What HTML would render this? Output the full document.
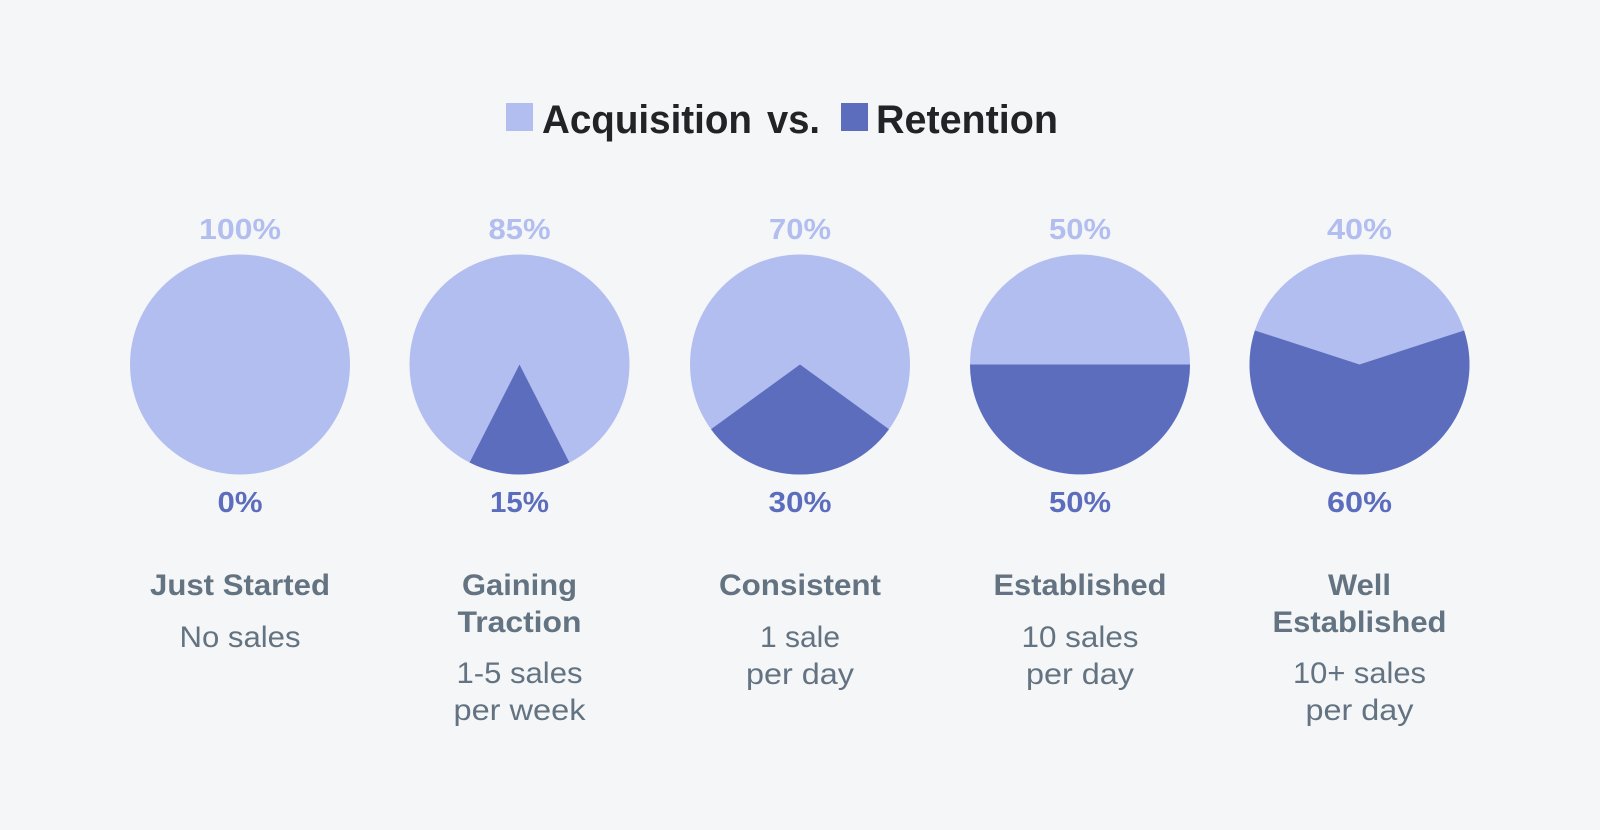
<!DOCTYPE html>
<html><head><meta charset="utf-8"><style>
html,body{margin:0;padding:0;background:#f4f6f8;}
svg{display:block}
text{font-family:"Liberation Sans",sans-serif;}
.b{font-weight:bold}
</style></head><body>
<svg width="1600" height="830" viewBox="0 0 1600 830" xmlns="http://www.w3.org/2000/svg">
<rect width="1600" height="830" fill="#f4f6f8"/>
<rect x="506" y="103" width="27" height="28" fill="#b2bdf0"/>
<rect x="841" y="103" width="27" height="28" fill="#5d6dbe"/>
<g class="b" fill="#212326" font-size="40">
<text x="542" y="133" textLength="210" lengthAdjust="spacingAndGlyphs">Acquisition</text>
<text x="767" y="133" textLength="53" lengthAdjust="spacingAndGlyphs">vs.</text>
<text x="876" y="133" textLength="182" lengthAdjust="spacingAndGlyphs">Retention</text>
</g>
<!-- pies -->
<circle cx="240" cy="364.5" r="110" fill="#b2bdf0"/>
<circle cx="519.5" cy="364.5" r="110" fill="#b2bdf0"/>
<path d="M519.5 364.5 L469.6 462.5 A110 110 0 0 0 569.4 462.5 Z" fill="#5d6dbe"/>
<circle cx="800" cy="364.5" r="110" fill="#b2bdf0"/>
<path d="M800 364.5 L711 429.2 A110 110 0 0 0 889 429.2 Z" fill="#5d6dbe"/>
<circle cx="1080" cy="364.5" r="110" fill="#b2bdf0"/>
<path d="M1080 364.5 L970 364.5 A110 110 0 0 0 1190 364.5 Z" fill="#5d6dbe"/>
<circle cx="1359.5" cy="364.5" r="110" fill="#b2bdf0"/>
<path d="M1359.5 364.5 L1254.9 330.5 A110 110 0 1 0 1464.1 330.5 Z" fill="#5d6dbe"/>
<!-- percents -->
<g class="b" font-size="29" text-anchor="middle" fill="#b2bdf0">
<text x="240" y="239" textLength="82" lengthAdjust="spacingAndGlyphs">100%</text>
<text x="519.5" y="239" textLength="62" lengthAdjust="spacingAndGlyphs">85%</text>
<text x="800" y="239" textLength="62" lengthAdjust="spacingAndGlyphs">70%</text>
<text x="1080" y="239" textLength="62" lengthAdjust="spacingAndGlyphs">50%</text>
<text x="1359.5" y="239" textLength="65" lengthAdjust="spacingAndGlyphs">40%</text>
</g>
<g class="b" font-size="29" text-anchor="middle" fill="#5d6dbe">
<text x="240" y="512" textLength="45" lengthAdjust="spacingAndGlyphs">0%</text>
<text x="519.5" y="512" textLength="59" lengthAdjust="spacingAndGlyphs">15%</text>
<text x="800" y="512" textLength="63" lengthAdjust="spacingAndGlyphs">30%</text>
<text x="1080" y="512" textLength="62" lengthAdjust="spacingAndGlyphs">50%</text>
<text x="1359.5" y="512" textLength="65" lengthAdjust="spacingAndGlyphs">60%</text>
</g>
<!-- labels -->
<g class="b" font-size="30" text-anchor="middle" fill="#637381">
<text x="240" y="595" textLength="180" lengthAdjust="spacingAndGlyphs">Just Started</text>
<text x="519.5" y="595" textLength="115" lengthAdjust="spacingAndGlyphs">Gaining</text>
<text x="519.5" y="632" textLength="124" lengthAdjust="spacingAndGlyphs">Traction</text>
<text x="800" y="595" textLength="162" lengthAdjust="spacingAndGlyphs">Consistent</text>
<text x="1080" y="595" textLength="173" lengthAdjust="spacingAndGlyphs">Established</text>
<text x="1359.5" y="595" textLength="63" lengthAdjust="spacingAndGlyphs">Well</text>
<text x="1359.5" y="632" textLength="174" lengthAdjust="spacingAndGlyphs">Established</text>
</g>
<g font-size="30" text-anchor="middle" fill="#637381">
<text x="240" y="647" textLength="121" lengthAdjust="spacingAndGlyphs">No sales</text>
<text x="519.5" y="683" textLength="126" lengthAdjust="spacingAndGlyphs">1-5 sales</text>
<text x="519.5" y="720" textLength="132" lengthAdjust="spacingAndGlyphs">per week</text>
<text x="800" y="647" textLength="80" lengthAdjust="spacingAndGlyphs">1 sale</text>
<text x="800" y="684" textLength="108" lengthAdjust="spacingAndGlyphs">per day</text>
<text x="1080" y="647" textLength="117" lengthAdjust="spacingAndGlyphs">10 sales</text>
<text x="1080" y="684" textLength="108" lengthAdjust="spacingAndGlyphs">per day</text>
<text x="1359.5" y="683" textLength="133" lengthAdjust="spacingAndGlyphs">10+ sales</text>
<text x="1359.5" y="720" textLength="108" lengthAdjust="spacingAndGlyphs">per day</text>
</g>
</svg>
</body></html>
